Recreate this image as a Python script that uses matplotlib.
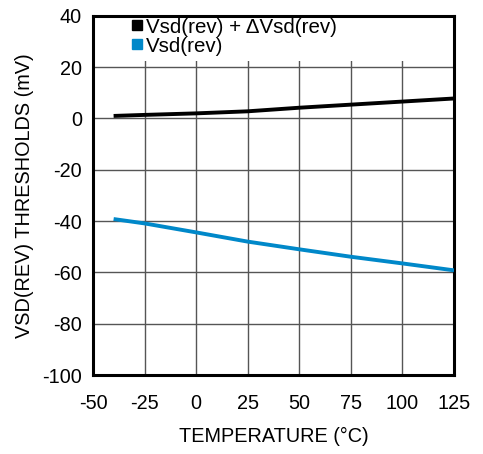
import matplotlib
matplotlib.use("Agg")
import matplotlib.pyplot as plt
from matplotlib.lines import Line2D
from matplotlib.patches import Rectangle

temp = [-40, -25, 0, 25, 50, 75, 100, 125]
vsd_plus_delta = [1.0, 1.4, 2.0, 2.8, 4.2, 5.4, 6.6, 7.8]
vsd = [-39.2, -40.9, -44.4, -48.0, -51.0, -53.9, -56.5, -59.2]

x_ticks = [-50, -25, 0, 25, 50, 75, 100, 125]
y_ticks = [-100, -80, -60, -40, -20, 0, 20, 40]
labels = ["Vsd(rev) + \u0394Vsd(rev)", "Vsd(rev)"]
colors = ["#000000", "#0088C9"]

plt.rcParams['font.family'] = ['Liberation Sans', 'DejaVu Sans']
plt.rcParams['axes.unicode_minus'] = False

fs = 14.3
fig = plt.figure(figsize=(4.83, 4.54), dpi=100)
ax = fig.add_axes([0.1925, 0.174, 0.7475, 0.791])

ax.plot(temp, vsd_plus_delta, color=colors[0], lw=2.8, solid_capstyle='butt', zorder=3)
ax.plot(temp, vsd, color=colors[1], lw=2.8, solid_capstyle='butt', zorder=3)

ax.set_xlim(-50, 125)
ax.set_ylim(-100, 40)
ax.set_xticks(x_ticks)
ax.set_yticks(y_ticks)
ax.tick_params(axis="x", length=0, labelsize=fs, pad=14)
ax.tick_params(axis="y", length=0, labelsize=fs, pad=8)
ax.grid(True, color="#555555", lw=1)
for s in ax.spines.values():
    s.set_linewidth(2.2)

# white area behind the legend hides the top of the grid
ax.add_patch(Rectangle((0, 0.875), 1, 0.125, transform=ax.transAxes,
                       facecolor='white', edgecolor='none', zorder=2))

ax.set_xlabel("TEMPERATURE (\u00b0C)", fontsize=fs, labelpad=10)
ax.set_ylabel("VSD(REV) THRESHOLDS (mV)", fontsize=fs, labelpad=6)

handles = [Line2D([], [], marker='s', ls='none', color=c, markersize=7.5) for c in colors]
leg = ax.legend(handles, labels, loc='upper left', bbox_to_anchor=(0.105, 0.995),
                frameon=False, fontsize=14.8, handlelength=0.6, handletextpad=0.15,
                labelspacing=0.0, borderpad=0, borderaxespad=0)
leg.set_zorder(5)

fig.savefig("out.png", dpi=100)
